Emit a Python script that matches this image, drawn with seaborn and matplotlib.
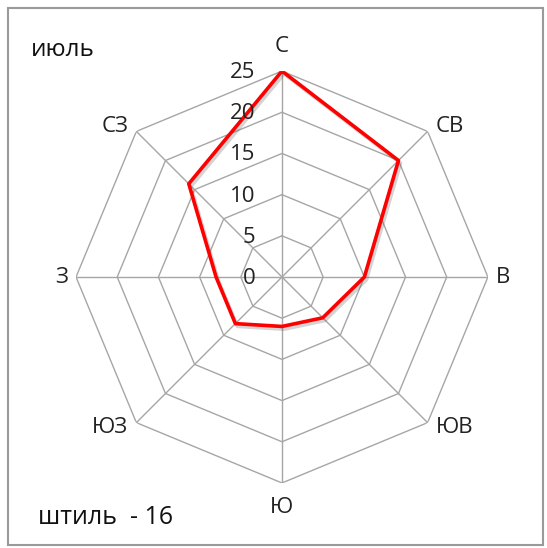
import numpy as np
import pandas as pd
import matplotlib
matplotlib.use('Agg')
import matplotlib.pyplot as plt
import matplotlib.patheffects as pe
from matplotlib.patches import Rectangle
import matplotlib.transforms as mtransforms
import seaborn as sns

# ── Data ────────────────────────────────────────────────────
directions = ['С', 'СВ', 'В', 'ЮВ', 'Ю', 'ЮЗ', 'З', 'СЗ']
july_freq  = [25, 20, 10, 7, 6, 8, 8, 16]
r_ticks    = [0, 5, 10, 15, 20, 25]
month_txt  = 'июль'
calm_txt   = 'штиль  - 16'

# ── Style ───────────────────────────────────────────────────
sns.set_theme(style='white')
plt.rcParams['font.family'] = ['Open Sans', 'DejaVu Sans']
grid_col = '#a6a6a6'

angles = np.linspace(0, 2 * np.pi, len(directions), endpoint=False)
df = pd.DataFrame({'angle': np.append(angles, angles[0]),
                   'value': july_freq + [july_freq[0]]})

fig = plt.figure(figsize=(5.47, 5.48), dpi=100)
ax = fig.add_axes([0.139, 0.1185, 0.753, 0.752], projection='polar')
ax.set_theta_zero_location('N')
ax.set_theta_direction(-1)
ax.set_ylim(0, r_ticks[-1])
ax.grid(False)
ax.spines['polar'].set_visible(False)
ax.set_xticks([])
ax.set_yticks([])
ax.patch.set_alpha(0)

# octagonal grid
ring_angles = np.append(angles, angles[0])
for r in r_ticks[1:]:
    ax.plot(ring_angles, [r] * len(ring_angles), color=grid_col, lw=1, zorder=1)
for a in angles:
    ax.plot([a, a], [0, r_ticks[-1]], color=grid_col, lw=1, zorder=1)

# data line
sns.lineplot(data=df, x='angle', y='value', sort=False, estimator=None,
             color='#ff0000', lw=2.6, ax=ax, zorder=3,
             path_effects=[pe.SimpleLineShadow(offset=(1.5, -2), alpha=0.25,
                                               shadow_color='#555555'),
                           pe.Normal()])
ax.set_xlabel('')
ax.set_ylabel('')

# radial tick labels
off = mtransforms.offset_copy(ax.transData, fig=fig, x=-19, y=-1, units='points')
for r in r_ticks:
    ax.text(0, r, str(r), transform=off, ha='right', va='center',
            fontsize=16, color='#222222')

# direction labels, placed next to the outer vertex like Excel does
for a, name in zip(angles, directions):
    s, c = np.round(np.sin(a), 6), np.round(np.cos(a), 6)
    if s == 0:
        ha, dx, dy = 'center', 0, 25 * np.sign(c)
    else:
        ha, dx, dy = ('left' if s > 0 else 'right'), 8 * np.sign(s), 5 * np.sign(c)
    tr = mtransforms.offset_copy(ax.transData, fig=fig, x=dx, y=dy, units='dots')
    ax.text(a, r_ticks[-1], name, transform=tr, ha=ha, va='center',
            fontsize=16, color='#222222')

fig.text(0.057, 0.908, month_txt, fontsize=17.5, color='#111111',
         ha='left', va='center')
fig.text(0.069, 0.056, calm_txt, fontsize=18, color='#111111',
         ha='left', va='center')

fig.patches.append(Rectangle((0.015, 0.006), 0.978, 0.98,
                             transform=fig.transFigure, fill=False,
                             edgecolor='#9a9a9a', lw=1.5))

fig.savefig('out.png', dpi=100)
